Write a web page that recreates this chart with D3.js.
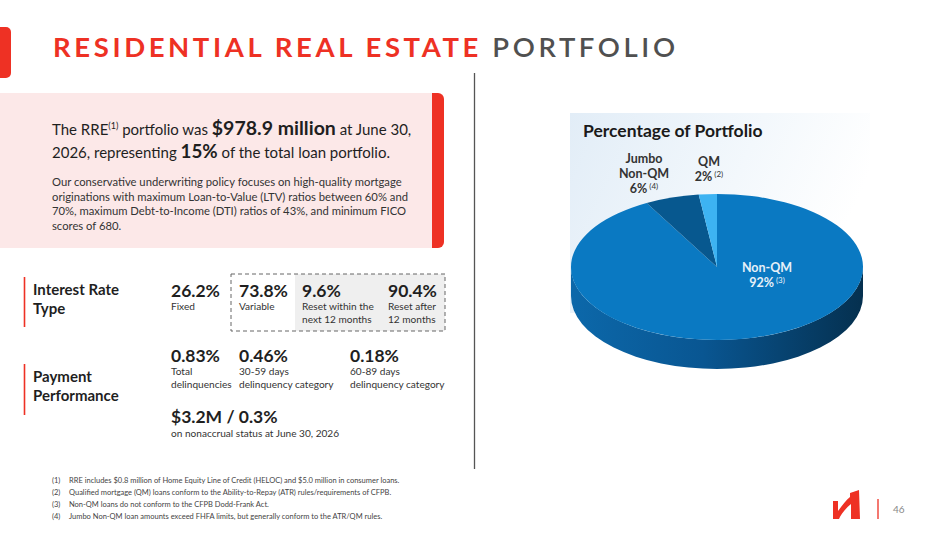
<!DOCTYPE html>
<html>
<head>
<meta charset="utf-8">
<script src="https://cdn.jsdelivr.net/npm/d3@7"></script>
<style>
  html, body { margin: 0; padding: 0; background: #fff; }
  svg { display: block; font-family: Lato, "Open Sans", sans-serif; }
</style>
</head>
<body>
<svg id="chart" width="949" height="534"></svg>
<script>
// ---------------- DATA ----------------
const titleRed = "RESIDENTIAL REAL ESTATE";
const titleGray = "PORTFOLIO";

const sliceLabels = ["Non-QM", "Jumbo Non-QM", "QM"];
const sliceValues = [92, 6, 2];
const sliceNotes = ["(3)", "(4)", "(2)"];
const sliceColors = ["#0a79c2", "#07588f", "#3db3f2"];

const rateValues = ["26.2%", "73.8%", "9.6%", "90.4%"];
const rateLabels = [["Fixed"], ["Variable"], ["Reset within the", "next 12 months"], ["Reset after", "12 months"]];

const payValues = ["0.83%", "0.46%", "0.18%"];
const payLabels = [["Total", "delinquencies"], ["30-59 days", "delinquency category"], ["60-89 days", "delinquency category"]];

const nonaccrualValue = "$3.2M / 0.3%";
const nonaccrualLabel = "on nonaccrual status at June 30, 2026";

const paragraphLines = [
  "Our conservative underwriting policy focuses on high-quality mortgage",
  "originations with maximum Loan-to-Value (LTV) ratios between 60% and",
  "70%, maximum Debt-to-Income (DTI) ratios of 43%, and minimum FICO",
  "scores of 680."
];

const footnotes = [
  "RRE includes $0.8 million of Home Equity Line of Credit (HELOC) and $5.0 million in consumer loans.",
  "Qualified mortgage (QM) loans conform to the Ability-to-Repay (ATR) rules/requirements of CFPB.",
  "Non-QM loans do not conform to the CFPB Dodd-Frank Act.",
  "Jumbo Non-QM loan amounts exceed FHFA limits, but generally conform to the ATR/QM rules."
];
const pageNumber = "46";

// ---------------- DRAW ----------------
const svg = d3.select("#chart");
const RED = "#ee3124";
const DARK = "#1f1f1f";
const defs = svg.append("defs");

// title tab
svg.append("path").attr("d", "M0,27 H6 a5,5 0 0 1 5,5 V73 a5,5 0 0 1 -5,5 H0 Z").attr("fill", RED);

const title = svg.append("text").attr("x", 53).attr("y", 57)
  .attr("font-size", 27.5).attr("font-weight", 700).attr("letter-spacing", 3.6);
title.append("tspan").attr("fill", RED).text(titleRed + " ");
title.append("tspan").attr("fill", "#505050").attr("font-weight", 600).text(titleGray);

// vertical divider
svg.append("line").attr("x1", 474.5).attr("x2", 474.5).attr("y1", 73).attr("y2", 469)
  .attr("stroke", "#555").attr("stroke-width", 1.3);

// pink box
svg.append("rect").attr("x", 0).attr("y", 93).attr("width", 440).attr("height", 155).attr("fill", "#fce8e8");
svg.append("path").attr("d", "M432,93 H438 a6,6 0 0 1 6,6 V242 a6,6 0 0 1 -6,6 H432 Z").attr("fill", RED);

const l1 = svg.append("text").attr("x", 52).attr("y", 135).attr("font-size", 15).attr("fill", DARK);
l1.append("tspan").text("The RRE");
l1.append("tspan").attr("font-size", 9).attr("dy", -6).text("(1)");
l1.append("tspan").attr("dy", 6).text(" portfolio was ");
l1.append("tspan").attr("font-weight", 700).attr("font-size", 19.5).text("$978.9 million");
l1.append("tspan").text(" at June 30,");

const l2 = svg.append("text").attr("x", 52).attr("y", 158).attr("font-size", 15).attr("fill", DARK);
l2.append("tspan").text("2026, representing ");
l2.append("tspan").attr("font-weight", 700).attr("font-size", 18.8).text("15%");
l2.append("tspan").text(" of the total loan portfolio.");

svg.append("g").selectAll("text").data(paragraphLines).join("text")
  .attr("x", 52).attr("y", (d, i) => 186 + i * 14.6)
  .attr("font-size", 11.25).attr("fill", "#333").text(d => d);

// ---------- stats ----------
function sectionHeader(lines, y0, yLine1, yLine2) {
  svg.append("line").attr("x1", 24.5).attr("x2", 24.5).attr("y1", yLine1).attr("y2", yLine2)
    .attr("stroke", RED).attr("stroke-width", 1.6);
  svg.append("g").selectAll("text").data(lines).join("text")
    .attr("x", 33).attr("y", (d, i) => y0 + i * 18.5)
    .attr("font-size", 15).attr("font-weight", 700).attr("fill", DARK).text(d => d);
}
sectionHeader(["Interest Rate", "Type"], 295, 277, 327);
sectionHeader(["Payment", "Performance"], 382, 364, 415);

// dashed box
svg.append("rect").attr("x", 295).attr("y", 274).attr("width", 150).attr("height", 57).attr("fill", "#efefef");
svg.append("rect").attr("x", 231).attr("y", 274).attr("width", 214).attr("height", 57)
  .attr("fill", "none").attr("stroke", "#666").attr("stroke-width", 1).attr("stroke-dasharray", "4,3");

function statGroup(values, labels, xs, yVal) {
  values.forEach((v, i) => {
    svg.append("text").attr("x", xs[i]).attr("y", yVal).attr("font-size", 17.5)
      .attr("font-weight", 700).attr("fill", DARK).text(v);
    svg.append("g").selectAll("text").data(labels[i]).join("text")
      .attr("x", xs[i]).attr("y", (d, j) => yVal + 13 + j * 12.8)
      .attr("font-size", 10.1).attr("fill", "#333").text(d => d);
  });
}
statGroup(rateValues, rateLabels, [171, 239, 302, 388], 297);
statGroup(payValues, payLabels, [171, 239, 350], 362);

svg.append("text").attr("x", 171).attr("y", 423).attr("font-size", 17.5).attr("font-weight", 700)
  .attr("fill", DARK).text(nonaccrualValue);
svg.append("text").attr("x", 171).attr("y", 437).attr("font-size", 10.1).attr("fill", "#333").text(nonaccrualLabel);

// ---------- footnotes ----------
const fn = svg.append("g");
footnotes.forEach((t, i) => {
  const y = 483 + i * 12;
  fn.append("text").attr("x", 52).attr("y", y).attr("font-size", 7.5).attr("fill", "#444").text(`(${i + 1})`);
  fn.append("text").attr("x", 69).attr("y", y).attr("font-size", 7.5).attr("fill", "#444").text(t);
});

// ---------- logo + page ----------
svg.append("path").attr("fill", RED).attr("d",
  "M833,501 L838,501 L838,511 C842,506 846,500 850,497 L850,493 L859,490 L860,519 L851,519 L851,504 C846,508 841,514 839,519 L833,519 Z");
svg.append("line").attr("x1", 878).attr("x2", 878).attr("y1", 499).attr("y2", 519).attr("stroke", RED).attr("stroke-width", 1.3);
svg.append("text").attr("x", 893).attr("y", 513).attr("font-size", 10).attr("fill", "#888").text(pageNumber);

// ---------- pie panel ----------
const panelGrad = defs.append("linearGradient").attr("id", "panelGrad").attr("x1", "0").attr("x2", "1").attr("y1", "0").attr("y2", "0.3");
panelGrad.append("stop").attr("offset", "0").attr("stop-color", "#e2edf7");
panelGrad.append("stop").attr("offset", "0.6").attr("stop-color", "#f3f8fc");
panelGrad.append("stop").attr("offset", "1").attr("stop-color", "#ffffff");
svg.append("rect").attr("x", 570).attr("y", 113).attr("width", 300).attr("height", 200).attr("fill", "url(#panelGrad)");

svg.append("text").attr("x", 583).attr("y", 137).attr("font-size", 17.5).attr("font-weight", 700)
  .attr("fill", "#1a1a1a").text("Percentage of Portfolio");

// 3D pie
const cx = 717, cy = 267, rx = 146, ry = 73, depth = 29;
const sideGrad = defs.append("linearGradient").attr("id", "sideGrad").attr("x1", "0").attr("x2", "1");
sideGrad.append("stop").attr("offset", "0").attr("stop-color", "#0c68aa");
sideGrad.append("stop").attr("offset", "0.45").attr("stop-color", "#095692");
sideGrad.append("stop").attr("offset", "1").attr("stop-color", "#05304f");

svg.append("path").attr("fill", "url(#sideGrad)").attr("d",
  `M${cx - rx},${cy} L${cx - rx},${cy + depth} A${rx},${ry} 0 0 0 ${cx + rx},${cy + depth} L${cx + rx},${cy} A${rx},${ry} 0 0 1 ${cx - rx},${cy} Z`);

const pie = d3.pie().sort(null).value(d => d)(sliceValues);
const arc = d3.arc().innerRadius(0).outerRadius(rx);
svg.append("g").attr("transform", `translate(${cx},${cy}) scale(1,${ry / rx})`)
  .selectAll("path").data(pie).join("path")
  .attr("d", arc).attr("fill", (d, i) => sliceColors[i]);

// slice labels
function sliceLabel(lines, note, x, y0, fill) {
  const g = svg.append("g").attr("font-size", 12.5).attr("font-weight", 700).attr("fill", fill).attr("text-anchor", "middle");
  lines.forEach((ln, i) => {
    const t = g.append("text").attr("x", x).attr("y", y0 + i * 14.8);
    t.append("tspan").text(ln);
    if (i === lines.length - 1) {
      t.append("tspan").attr("font-size", 8).attr("font-weight", 400).attr("dy", -4).text(" " + note);
    }
  });
}
sliceLabel([sliceLabels[0], sliceValues[0] + "%"], sliceNotes[0], 767, 272, "#e6f0f8");
sliceLabel(["Jumbo", "Non-QM", sliceValues[1] + "%"], sliceNotes[1], 644, 163, "#333");
sliceLabel([sliceLabels[2], sliceValues[2] + "%"], sliceNotes[2], 709, 166, "#333");
</script>
</body>
</html>
